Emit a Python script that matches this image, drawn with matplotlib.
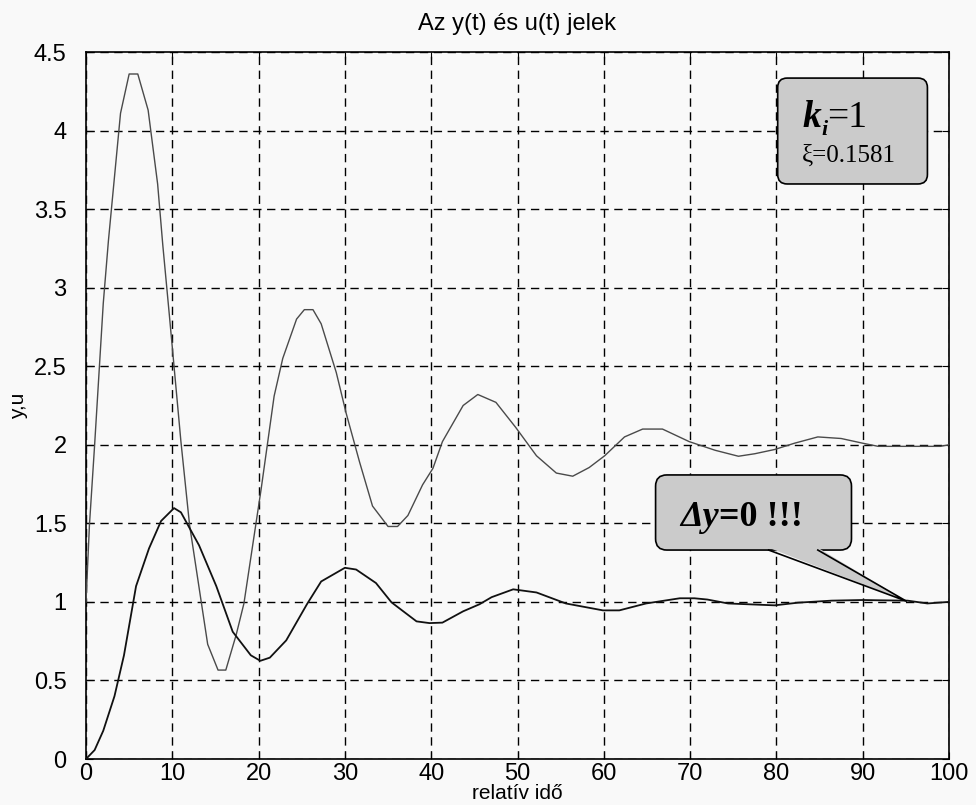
import numpy as np
import matplotlib.pyplot as plt
from matplotlib.patches import FancyBboxPatch, Polygon

# ***** DATA *****
# u(t) - control signal
t_u = [0, 0.4, 1, 2, 2.6, 4, 5, 6, 7.2, 8.3, 8.9, 9.65, 10.2, 11.0, 12.0,
       14.1, 15.3, 16.2, 17.4, 18.3, 20.3, 21.8, 22.8, 24.4, 25.3, 26.3,
       27.25, 29.0, 30.15, 31.7, 33.2, 35.0, 36.1, 37.3, 39.0, 40.2, 41.3,
       43.7, 45.4, 47.5, 49.8, 52.2, 54.5, 56.4, 58.3, 60.1, 62.4, 64.5,
       66.8, 69.9, 72.9, 75.6, 77.5, 79.8, 82.1, 84.8, 87.5, 90, 91.8, 95,
       99, 100]
u_vals = [1.0, 1.49, 2.0, 2.9, 3.3, 4.11, 4.36, 4.36, 4.13, 3.66, 3.27, 2.83,
          2.5, 2.02, 1.49, 0.73, 0.566, 0.566, 0.79, 0.99, 1.72, 2.31, 2.55,
          2.80, 2.86, 2.86, 2.77, 2.46, 2.20, 1.89, 1.61, 1.48, 1.48, 1.55,
          1.745, 1.85, 2.02, 2.25, 2.32, 2.27, 2.11, 1.93, 1.82, 1.80, 1.855,
          1.93, 2.05, 2.10, 2.10, 2.02, 1.965, 1.927, 1.943, 1.97, 2.01, 2.05,
          2.04, 2.01, 1.99, 1.99, 1.99, 2.0]

# y(t) - plant output
t_y = [0, 1, 2, 3.3, 4.4, 5.8, 7.3, 8.7, 10.2, 11.0, 13.1, 15.1, 17.0, 19.1,
       20.2, 21.3, 23.2, 25.6, 27.25, 30.0, 31.3, 33.6, 35.4, 38.3, 39.8,
       41.3, 43.7, 45.6, 47.0, 49.5, 52.2, 55.6, 59.9, 61.8, 64.9, 68.8,
       70.5, 72, 74.4, 79.8, 82.5, 86.4, 90, 92.1, 95.2, 97.5, 100]
y_vals = [0, 0.057, 0.18, 0.40, 0.66, 1.10, 1.34, 1.515, 1.597, 1.57, 1.36,
          1.10, 0.81, 0.66, 0.625, 0.645, 0.755, 0.985, 1.13, 1.217, 1.206,
          1.12, 0.997, 0.876, 0.865, 0.868, 0.94, 0.985, 1.03, 1.08, 1.06,
          0.99, 0.946, 0.946, 0.99, 1.023, 1.023, 1.015, 0.99, 0.978, 0.995,
          1.008, 1.012, 1.01, 1.008, 0.99, 1.0]

x_ticks = list(range(0, 101, 10))
y_ticks = [0, 0.5, 1, 1.5, 2, 2.5, 3, 3.5, 4, 4.5]
y_tick_labels = ['0', '0.5', '1', '1.5', '2', '2.5', '3', '3.5', '4', '4.5']

# ***** FIGURE *****
plt.rcParams['font.family'] = ['Liberation Sans', 'DejaVu Sans']
bg = '#f9f9f9'
fig = plt.figure(figsize=(9.76, 8.05), dpi=100, facecolor=bg)
ax = fig.add_axes([86 / 976, 1 - 759 / 805, (949 - 86) / 976, (759 - 52) / 805])
ax.set_facecolor(bg)

ax.plot(t_u, u_vals, color='#4a4a4a', lw=1.0, zorder=3)
ax.plot(t_y, y_vals, color='#111111', lw=1.3, zorder=3)

ax.set_xlim(0, 100)
ax.set_ylim(0, 4.5)
ax.set_xticks(x_ticks)
ax.set_yticks(y_ticks)
ax.set_yticklabels(y_tick_labels)
ax.tick_params(direction='in', length=5, labelsize=17, top=True, right=True,
               color='black')
ax.tick_params(axis='x', pad=3)
ax.tick_params(axis='y', pad=14)
ax.grid(True, color='black', linestyle=(0, (6, 4)), lw=1.0)
for sp in ax.spines.values():
    sp.set_linewidth(1.2)

ax.set_title('Az y(t) és u(t) jelek', fontsize=17, pad=16)
ax.set_xlabel('relatív idő', fontsize=15, labelpad=-1)
ax.set_ylabel('y,u', fontsize=15, labelpad=4)

# pixel aspect for rounded corners
p0 = ax.transData.transform((0, 0))
p1 = ax.transData.transform((1, 1))
aspect = (p1[0] - p0[0]) / (p1[1] - p0[1])
box_fill = '#cbcbcb'
serif = 'Liberation Serif'

# --- top-right parameter box ---
ax.add_patch(FancyBboxPatch((80.15, 3.66), 97.5 - 80.15, 4.334 - 3.66,
                            boxstyle='round,pad=0,rounding_size=1.1',
                            mutation_aspect=aspect, fc=box_fill, ec='black',
                            lw=1.2, zorder=5))
k_txt = ax.text(83.0, 4.02, 'k', fontsize=27, family=serif, weight='bold',
                style='italic', va='baseline', zorder=6)
i_txt = ax.annotate('i', xy=(1, 0), xycoords=k_txt, xytext=(0, -3),
                    textcoords='offset points', fontsize=16, family=serif,
                    weight='bold', style='italic', va='bottom', zorder=6)
ax.annotate('=1', xy=(1, 0), xycoords=(i_txt, k_txt), xytext=(0, 0),
            textcoords='offset points', fontsize=27, family=serif,
            va='bottom', zorder=6)
ax.text(82.9, 3.80, 'ξ=0.1581', fontsize=18, family=serif, va='baseline',
        zorder=6)

# --- callout box with pointer ---
ax.add_patch(FancyBboxPatch((66.0, 1.33), 88.7 - 66.0, 1.808 - 1.33,
                            boxstyle='round,pad=0,rounding_size=1.3',
                            mutation_aspect=aspect, fc=box_fill, ec='black',
                            lw=1.2, zorder=5))
base_l, base_r, tip = (79.1, 1.33), (84.8, 1.33), (95.05, 1.005)
ax.add_patch(Polygon([(base_l[0], 1.345), tip, (base_r[0], 1.345)],
                     closed=True, fc=box_fill, ec='none', zorder=5.5))
ax.plot([base_l[0], tip[0], base_r[0]], [base_l[1], tip[1], base_r[1]],
        color='black', lw=1.2, zorder=5.6)
d_txt = ax.text(68.9, 1.485, 'Δy', fontsize=26, family=serif, weight='bold',
                style='italic', va='baseline', zorder=6)
ax.annotate('=0 !!!', xy=(1, 0), xycoords=d_txt, fontsize=26, family=serif,
            weight='bold', va='bottom', zorder=6)

fig.savefig('out.png', dpi=100, facecolor=bg)
